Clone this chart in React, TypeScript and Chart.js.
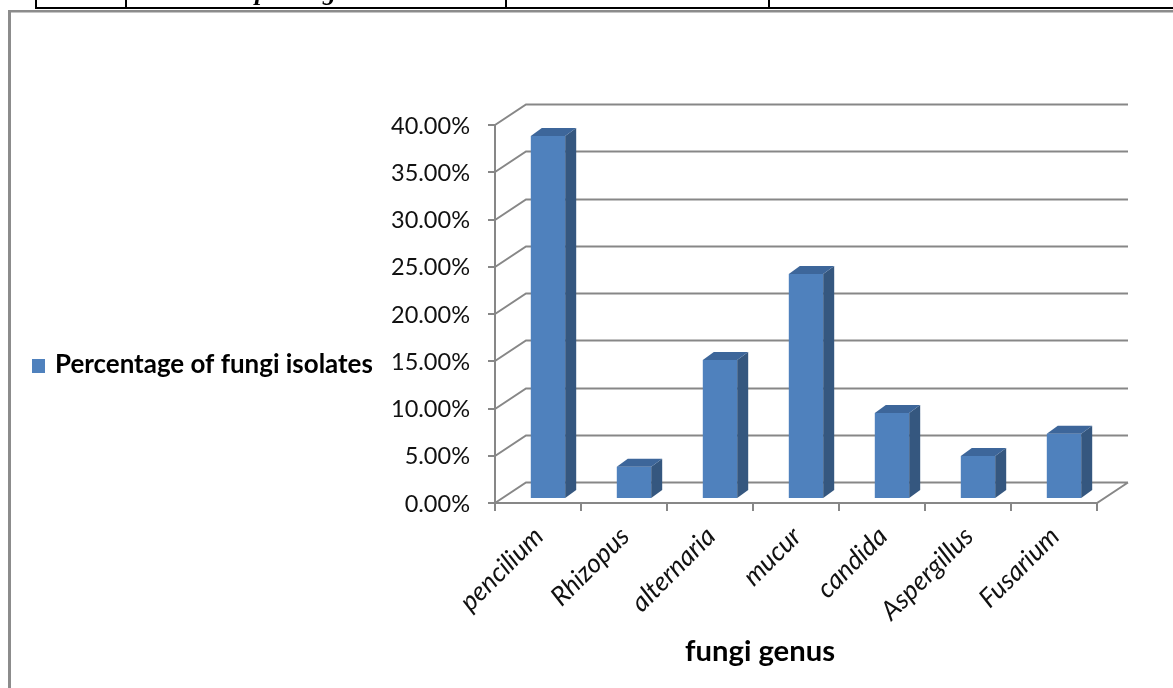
import React, { useEffect, useRef } from "react";
import { Chart, registerables } from "chart.js";

Chart.register(...registerables);

// ---- data ----
const categories = ["pencilium", "Rhizopus", "alternaria", "mucur", "candida", "Aspergillus", "Fusarium"];
const percentages = [38.3, 3.3, 14.6, 23.7, 9.0, 4.45, 6.8];
const yTickValues = [0, 5, 10, 15, 20, 25, 30, 35, 40];
const seriesName = "Percentage of fungi isolates";
const xAxisTitle = "fungi genus";

// ---- style ----
const FONT = "Lato, 'Open Sans', 'DejaVu Sans', sans-serif";
const FRONT = "#4F81BD";
const SIDE = "#35577F";
const TOP = "#3D669A";
const GRID = "#878787";
const TEXT = "#111111";

const DX = 31; // wall depth (x)
const DY = 20.5; // wall depth (y)
const BX = 10; // bar front plane offset
const BY = 5;
const SX = 11; // bar depth
const SY = 8;

function fitSize(ctx: CanvasRenderingContext2D, text: string, style: string, weight: string, target: number) {
  ctx.font = `${style} ${weight} 100px ${FONT}`;
  const w = ctx.measureText(text).width;
  return (100 * target) / w;
}

const scenePlugin = {
  id: "scene3d",
  beforeDraw(chart: any) {
    const { ctx, width, height } = chart;
    ctx.save();
    ctx.fillStyle = "#ffffff";
    ctx.fillRect(0, 0, width, height);
    // page fragments (table above the chart box)
    ctx.fillStyle = "#000";
    ctx.fillRect(35, 7, width - 35, 2);
    for (const xx of [35, 125, 505, 768]) ctx.fillRect(xx, 0, 2, 8);
    ctx.font = "italic bold 26px 'Liberation Serif', serif";
    ctx.textBaseline = "alphabetic";
    ctx.textAlign = "left";
    ctx.fillText("p", 255, 0);
    ctx.fillText("g", 323, 0);
    // chart box border
    ctx.fillStyle = "#8c8c8c";
    ctx.fillRect(8, 10, width - 8, 2.5);
    ctx.fillRect(8, 10, 3, height - 10);
    ctx.restore();
  },
  beforeDatasetsDraw(chart: any) {
    const { ctx, chartArea: a, scales } = chart;
    const x = scales.x;
    const y = scales.y;
    const n = categories.length;
    const catW = (a.right - a.left) / n;
    ctx.save();
    ctx.strokeStyle = GRID;
    ctx.lineWidth = 2;
    ctx.lineCap = "butt";
    ctx.beginPath();
    for (const v of yTickValues) {
      const py = Math.round(y.getPixelForValue(v));
      ctx.moveTo(a.left, py);
      ctx.lineTo(a.left + DX, py - DY);
      ctx.lineTo(a.right + DX, py - DY);
      ctx.moveTo(a.left - 7, py);
      ctx.lineTo(a.left, py);
    }
    const p0 = Math.round(y.getPixelForValue(0));
    ctx.moveTo(a.left, y.getPixelForValue(yTickValues[yTickValues.length - 1]));
    ctx.lineTo(a.left, p0 + 8);
    ctx.moveTo(a.left, p0);
    ctx.lineTo(a.right, p0);
    ctx.lineTo(a.right + DX, p0 - DY);
    for (let i = 0; i <= n; i++) {
      const bx = i < n ? x.getPixelForValue(i) - catW / 2 : x.getPixelForValue(n - 1) + catW / 2;
      ctx.moveTo(bx, p0);
      ctx.lineTo(bx, p0 + 8);
    }
    ctx.stroke();
    ctx.restore();
    // bars are drawn in a plane slightly behind the front edge
    ctx.save();
    ctx.translate(BX, -BY);
  },
  afterDatasetsDraw(chart: any) {
    const { ctx } = chart;
    const meta = chart.getDatasetMeta(0);
    for (const el of meta.data) {
      const { x, y, base, width } = el.getProps(["x", "y", "base", "width"], true);
      const l = x - width / 2;
      const r = x + width / 2;
      ctx.fillStyle = SIDE;
      ctx.beginPath();
      ctx.moveTo(r, y);
      ctx.lineTo(r + SX, y - SY);
      ctx.lineTo(r + SX, base - SY);
      ctx.lineTo(r, base);
      ctx.closePath();
      ctx.fill();
      ctx.fillStyle = TOP;
      ctx.beginPath();
      ctx.moveTo(l, y);
      ctx.lineTo(l + SX, y - SY);
      ctx.lineTo(r + SX, y - SY);
      ctx.lineTo(r, y);
      ctx.closePath();
      ctx.fill();
    }
    ctx.restore();
  },
  afterDraw(chart: any) {
    const { ctx, chartArea: a, scales } = chart;
    const x = scales.x;
    const y = scales.y;
    ctx.save();
    ctx.fillStyle = TEXT;
    // y tick labels
    const ys = fitSize(ctx, "40.00%", "normal", "normal", 79);
    ctx.font = `normal normal ${ys}px ${FONT}`;
    ctx.textAlign = "right";
    ctx.textBaseline = "alphabetic";
    for (const v of yTickValues) {
      const py = y.getPixelForValue(v);
      ctx.fillText(v.toFixed(2) + "%", a.left - 25, py + 8.5);
    }
    // x tick labels (rotated)
    const xs = fitSize(ctx, "Aspergillus", "italic", "normal", 118);
    ctx.font = `italic normal ${xs}px ${FONT}`;
    const p0 = y.getPixelForValue(0);
    categories.forEach((c, i) => {
      const cx = x.getPixelForValue(i);
      ctx.save();
      ctx.translate(cx + 7, p0 + 35);
      ctx.rotate(-Math.PI / 4);
      ctx.textAlign = "right";
      ctx.fillText(c, 0, 0);
      ctx.restore();
    });
    // axis title
    const ts = fitSize(ctx, xAxisTitle, "normal", "bold", 150);
    ctx.font = `normal bold ${ts}px ${FONT}`;
    ctx.textAlign = "center";
    ctx.fillStyle = "#000";
    ctx.fillText(xAxisTitle, 760, 661);
    // legend
    ctx.fillStyle = FRONT;
    ctx.fillRect(32, 359, 13, 14);
    const ls = fitSize(ctx, seriesName, "normal", "bold", 318);
    ctx.font = `normal bold ${ls}px ${FONT}`;
    ctx.fillStyle = "#000";
    ctx.textAlign = "left";
    ctx.fillText(seriesName, 55, 373);
    ctx.restore();
  },
};

export default function App() {
  const canvasRef = useRef<HTMLCanvasElement | null>(null);

  useEffect(() => {
    const canvas = canvasRef.current;
    if (!canvas) return;
    const chart = new Chart(canvas, {
      type: "bar",
      data: {
        labels: categories,
        datasets: [
          {
            label: seriesName,
            data: percentages,
            backgroundColor: FRONT,
            borderWidth: 0,
            categoryPercentage: 1,
            barPercentage: 0.4,
          },
        ],
      },
      options: {
        responsive: false,
        maintainAspectRatio: false,
        animation: false,
        devicePixelRatio: 1,
        layout: { padding: { left: 495, right: 1173 - 1097, top: 125, bottom: 688 - 503 } },
        plugins: { legend: { display: false }, tooltip: { enabled: false }, title: { display: false } },
        scales: {
          x: { type: "category", display: false, offset: true },
          y: { type: "linear", display: false, min: 0, max: 40 },
        },
      },
      plugins: [scenePlugin],
    });
    return () => chart.destroy();
  }, []);

  return (
    <div style={{ position: "fixed", left: 0, top: 0, width: 1173, height: 688, background: "#fff" }}>
      <canvas ref={canvasRef} width={1173} height={688} style={{ display: "block", width: 1173, height: 688 }} />
    </div>
  );
}
